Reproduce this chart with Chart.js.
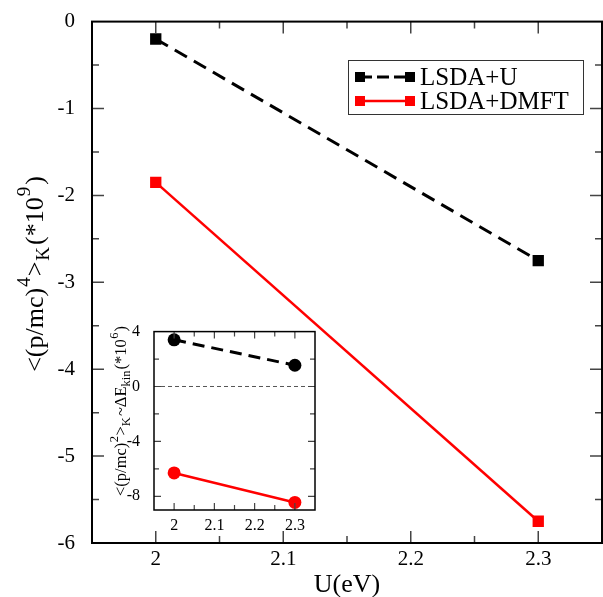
<!DOCTYPE html>
<html><head><meta charset="utf-8">
<script src="https://cdn.jsdelivr.net/npm/chart.js@4"></script>
<style>
html,body{margin:0;padding:0;background:#fff;overflow:hidden;width:603px;height:597px;}
#wrap{position:relative;width:603px;height:597px;overflow:hidden;background:#fff;}
#main{position:absolute;left:0;top:0;width:610px;height:597px;}
#inset{position:absolute;left:100px;top:316px;width:222px;height:236px;}
</style></head><body>
<div id="wrap"><canvas id="main" width="610" height="597"></canvas><canvas id="inset" width="222" height="236"></canvas></div>
<script>
// ---- data ----
const uValues = [2.0, 2.3];
const lsdaU = [-0.2, -2.75];
const lsdaDmft = [-1.85, -5.75];
const insetLsdaU = [3.4, 1.55];
const insetLsdaDmft = [-6.3, -8.45];

const mainXTickValues = [1.95, 2.0, 2.05, 2.1, 2.15, 2.2, 2.25, 2.3, 2.35];
const mainXTickLabels = ['', '2', '', '2.1', '', '2.2', '', '2.3', ''];
const mainYTickValues = [0, -0.5, -1, -1.5, -2, -2.5, -3, -3.5, -4, -4.5, -5, -5.5, -6];
const mainYTickLabels = ['0', '', '-1', '', '-2', '', '-3', '', '-4', '', '-5', '', '-6'];
const insetXTickValues = [1.95, 2.0, 2.05, 2.1, 2.15, 2.2, 2.25, 2.3, 2.35];
const insetXTickLabels = ['', '2', '', '2.1', '', '2.2', '', '2.3', ''];
const insetYTickValues = [-9, -8, -6, -4, -2, 0, 2, 4];
const insetYTickLabels = ['', '-8', '', '-4', '', '0', '', '4'];

const seriesNames = ['LSDA+U', 'LSDA+DMFT'];
const SERIF = "'Liberation Serif', serif";

function pts(xs, ys) { return xs.map((x, i) => ({x: x, y: ys[i]})); }

function setTicks(values) {
  return function (scale) { scale.ticks = values.map(v => ({value: v})); };
}
function labelFrom(values, labels) {
  return function (v) {
    const i = values.findIndex(t => Math.abs(t - v) < 1e-9);
    return i >= 0 ? labels[i] : '';
  };
}

function drawRich(ctx, segs, cx, cy, rot) {
  ctx.save();
  ctx.translate(cx, cy);
  ctx.rotate(rot);
  ctx.textBaseline = 'alphabetic';
  ctx.textAlign = 'left';
  let total = 0;
  segs.forEach(s => { ctx.font = s.size + 'px ' + SERIF; s.w = ctx.measureText(s.t).width; total += s.w + (s.gap || 0); });
  let x = -total / 2;
  ctx.fillStyle = '#000';
  segs.forEach(s => { ctx.font = s.size + 'px ' + SERIF; ctx.fillText(s.t, x, s.dy || 0); x += s.w + (s.gap || 0); });
  ctx.restore();
}

const frameTicks = {
  id: 'frameTicks',
  beforeDatasetsDraw(chart, args, o) {
    const a = chart.chartArea, ctx = chart.ctx;
    if (o.fill) { ctx.save(); ctx.fillStyle = '#fff'; ctx.fillRect(a.left, a.top, a.right - a.left, a.bottom - a.top); ctx.restore(); }
    if (o.zeroLine) {
      const y = chart.scales.y.getPixelForValue(0);
      ctx.save(); ctx.strokeStyle = '#555'; ctx.lineWidth = 1; ctx.setLineDash([4, 3]);
      ctx.beginPath(); ctx.moveTo(a.left, y); ctx.lineTo(a.right, y); ctx.stroke(); ctx.restore();
    }
  },
  afterDraw(chart, args, o) {
    const a = chart.chartArea, ctx = chart.ctx;
    const xs = chart.scales.x, ys = chart.scales.y;
    ctx.save();
    ctx.strokeStyle = '#444'; ctx.lineWidth = o.tickWidth;
    ctx.beginPath();
    xs.ticks.forEach(t => {
      const px = xs.getPixelForValue(t.value);
      if (px < a.left + 1 || px > a.right - 1) return;
      const L = t.label ? o.major : o.minor;
      ctx.moveTo(px, a.bottom); ctx.lineTo(px, a.bottom - L);
      ctx.moveTo(px, a.top); ctx.lineTo(px, a.top + L);
    });
    ys.ticks.forEach(t => {
      const py = ys.getPixelForValue(t.value);
      if (py < a.top + 1 || py > a.bottom - 1) return;
      const L = t.label ? o.major : o.minor;
      ctx.moveTo(a.left, py); ctx.lineTo(a.left + L, py);
      ctx.moveTo(a.right, py); ctx.lineTo(a.right - L, py);
    });
    ctx.stroke();
    ctx.strokeStyle = '#000'; ctx.lineWidth = o.frameWidth;
    ctx.strokeRect(a.left, a.top, a.right - a.left, a.bottom - a.top);
    ctx.restore();
    if (o.extra) o.extra(chart, ctx);
  }
};

function mainExtra(chart, ctx) {
  ctx.save();
  ctx.fillStyle = '#000';
  ctx.font = '26px ' + SERIF;
  ctx.textAlign = 'center'; ctx.textBaseline = 'alphabetic';
  ctx.fillText('U(eV)', 347, 592);
  ctx.restore();
  drawRich(ctx, [
    {t: '<(p/mc)', size: 26, gap: 1},
    {t: '4', size: 19, dy: -13, gap: 1},
    {t: '>', size: 26, gap: 1},
    {t: 'K', size: 19, dy: 6, gap: 2},
    {t: '(*10', size: 26, gap: 1},
    {t: '9', size: 19, dy: -13, gap: 2},
    {t: ')', size: 26}
  ], 43, 274, -Math.PI / 2);
  ctx.save();
  ctx.strokeStyle = '#333'; ctx.lineWidth = 1;
  ctx.strokeRect(348.5, 60.5, 235, 54);
  const rows = [
    {y: 77, color: '#000', dash: [12, 5]},
    {y: 101, color: '#ff0000', dash: []}
  ];
  rows.forEach((r, i) => {
    ctx.strokeStyle = r.color; ctx.lineWidth = i === 0 ? 3 : 2.5;
    ctx.setLineDash(r.dash);
    ctx.beginPath(); ctx.moveTo(360, r.y); ctx.lineTo(410, r.y); ctx.stroke();
    ctx.setLineDash([]);
    ctx.fillStyle = r.color;
    ctx.fillRect(355, r.y - 5, 10, 10);
    ctx.fillRect(405, r.y - 5, 10, 10);
    ctx.font = '25px ' + SERIF;
    ctx.fillStyle = '#000';
    ctx.textAlign = 'left'; ctx.textBaseline = 'alphabetic';
    ctx.fillText(seriesNames[i], 420, r.y + 8);
  });
  ctx.restore();
}

function insetExtra(chart, ctx) {
  drawRich(ctx, [
    {t: '<(p/mc)', size: 16.5, gap: 0.5},
    {t: '2', size: 12.5, dy: -8, gap: 0.5},
    {t: '>', size: 16.5},
    {t: 'K', size: 12.5, dy: 4, gap: 1},
    {t: '~\u0394E', size: 16.5},
    {t: 'kin', size: 12.5, dy: 4, gap: 1},
    {t: '(*10', size: 16.5, gap: 0.5},
    {t: '6', size: 12.5, dy: -8, gap: 1},
    {t: ')', size: 16.5}
  ], 26, 95, -Math.PI / 2);
}

function build() {
  Chart.register(frameTicks);
  new Chart(document.getElementById('main'), {
    type: 'line',
    data: {
      datasets: [
        {label: seriesNames[0], data: pts(uValues, lsdaU), borderColor: '#000', backgroundColor: '#000',
         borderWidth: 3, borderDash: [14, 8], pointStyle: 'rect', pointRadius: 8, pointBorderWidth: 0},
        {label: seriesNames[1], data: pts(uValues, lsdaDmft), borderColor: '#ff0000', backgroundColor: '#ff0000',
         borderWidth: 2.5, pointStyle: 'rect', pointRadius: 8, pointBorderWidth: 0}
      ]
    },
    options: {
      responsive: false, animation: false, devicePixelRatio: 1,
      layout: {padding: {left: 0, right: 6, top: 17, bottom: 0}},
      plugins: {legend: {display: false}, tooltip: {enabled: false},
        frameTicks: {major: 12, minor: 7, tickWidth: 1.5, frameWidth: 2, extra: mainExtra}},
      scales: {
        x: {type: 'linear', min: 1.95, max: 2.35,
            afterBuildTicks: setTicks(mainXTickValues), afterFit(s) { s.height = 54; },
            grid: {display: false}, border: {display: false},
            ticks: {callback: labelFrom(mainXTickValues, mainXTickLabels), autoSkip: false, maxRotation: 0,
                    color: '#000', padding: -4, font: {family: SERIF, size: 21}}},
        y: {type: 'linear', min: -6, max: 0,
            afterBuildTicks: setTicks(mainYTickValues), afterFit(s) { s.width = 92; },
            grid: {display: false}, border: {display: false},
            ticks: {callback: labelFrom(mainYTickValues, mainYTickLabels), autoSkip: false,
                    color: '#000', padding: 9, font: {family: SERIF, size: 21}}}
      }
    }
  });

  new Chart(document.getElementById('inset'), {
    type: 'line',
    data: {
      datasets: [
        {label: seriesNames[0], data: pts(uValues, insetLsdaU), borderColor: '#000', backgroundColor: '#000',
         borderWidth: 3, borderDash: [12, 7], pointStyle: 'circle', pointRadius: 6.5, pointBorderWidth: 0},
        {label: seriesNames[1], data: pts(uValues, insetLsdaDmft), borderColor: '#ff0000', backgroundColor: '#ff0000',
         borderWidth: 2.5, pointStyle: 'circle', pointRadius: 6.5, pointBorderWidth: 0}
      ]
    },
    options: {
      responsive: false, animation: false, devicePixelRatio: 1,
      layout: {padding: {left: 0, right: 7, top: 10, bottom: 0}},
      plugins: {legend: {display: false}, tooltip: {enabled: false},
        frameTicks: {major: 7, minor: 5, tickWidth: 1.2, frameWidth: 1.5, fill: true, zeroLine: true, extra: insetExtra}},
      scales: {
        x: {type: 'linear', min: 1.95, max: 2.35,
            afterBuildTicks: setTicks(insetXTickValues), afterFit(s) { s.height = 42; },
            grid: {display: false}, border: {display: false},
            ticks: {callback: labelFrom(insetXTickValues, insetXTickLabels), autoSkip: false, maxRotation: 0,
                    color: '#000', padding: -2, font: {family: SERIF, size: 16}}},
        y: {type: 'linear', min: -9, max: 4,
            afterBuildTicks: setTicks(insetYTickValues), afterFit(s) { s.width = 54; },
            grid: {display: false}, border: {display: false},
            ticks: {callback: labelFrom(insetYTickValues, insetYTickLabels), autoSkip: false,
                    color: '#000', padding: 6, font: {family: SERIF, size: 16}}}
      }
    }
  });
}

const fontLoads = [
  document.fonts.load("21px 'Liberation Serif'"),
  document.fonts.load("26px 'Liberation Serif'"),
  document.fonts.load("16px 'Liberation Serif'")
];
Promise.all(fontLoads).then(build, build);
</script>
</body></html>
